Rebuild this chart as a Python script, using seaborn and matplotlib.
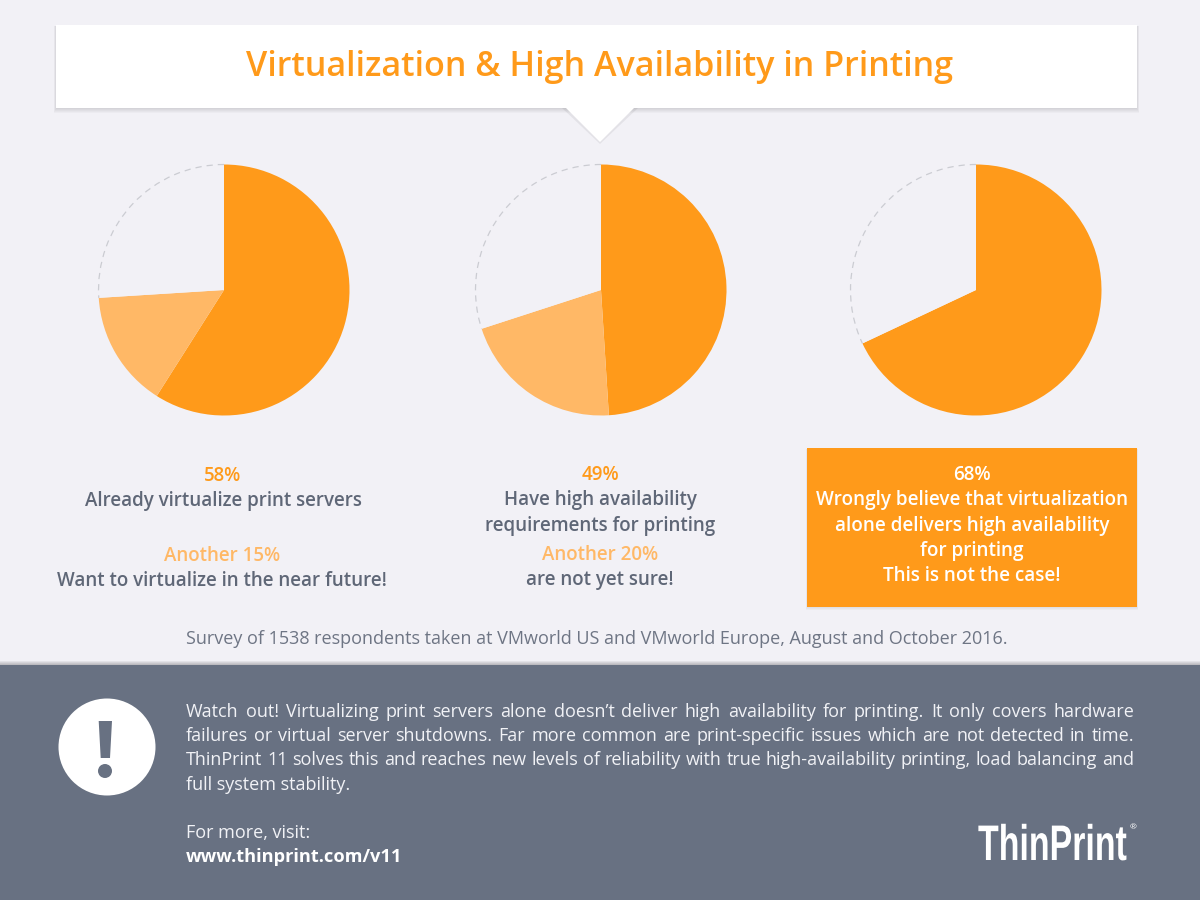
#!/usr/bin/env python3
# Survey infographic: three pies, captions and a footer panel.

import matplotlib

matplotlib.use("Agg")
import matplotlib.pyplot as plt
import seaborn as sns
from matplotlib.patches import Arc, Circle, Polygon, Rectangle
from matplotlib.patheffects import AbstractPathEffect
from matplotlib.transforms import Affine2D

W, H = 1200, 900

BG = "#F2F1F6"
ORANGE = "#FF9A1A"
LIGHT = "#FFB866"
SLATE = "#687182"
TEXT = "#5F6777"
REST = "#F2F1F6"

# pie shares as measured from the slice angles (first two slices, rest is empty)
PIE_MAIN = [59, 49, 68]
PIE_SOFT = [15, 21, 0]
PIE_CENTERS = [224, 601, 976]
PIE_RADIUS = 125.5

TITLE = "Virtualization & High Availability in Printing"
SURVEY = "Survey of 1538 respondents taken at VMworld US and VMworld Europe, August and October 2016."
FOOT_LINES = [
    "Watch out! Virtualizing print servers alone doesn’t deliver high availability for printing. It only covers hardware",
    "failures or virtual server shutdowns. Far more common are print-specific issues which are not detected in time.",
    "ThinPrint 11 solves this and reaches new levels of reliability with true high-availability printing, load balancing and",
]
FOOT_LAST = "full system stability."
FOOT_SIZE = 13.0

sns.set_theme(style="white")
plt.rcParams["font.family"] = ["Open Sans", "DejaVu Sans"]

fig = plt.figure(figsize=(W / 100, H / 100), dpi=100, facecolor=BG)
bg = fig.add_axes([0, 0, 1, 1])
bg.set_xlim(0, W)
bg.set_ylim(H, 0)
bg.axis("off")


class Stretch(AbstractPathEffect):
    """Makes the glyphs taller above the baseline (no condensed font is installed)."""

    def __init__(self, y0, sy):
        super().__init__()
        self.stretch = Affine2D().translate(0, -y0).scale(1, sy).translate(0, y0)

    def draw_path(self, renderer, gc, tpath, affine, rgbFace=None):
        renderer.draw_path(gc, tpath, affine + self.stretch, rgbFace)


def soft_shadow(x, y, w, h, steps=5, drop=1.0):
    for i in range(steps):
        bg.add_patch(Rectangle((x - i * 0.6, y + drop), w + i * 1.2, h + i * 0.9,
                               fc="#000000", alpha=0.022, lw=0, zorder=1))


def put(x, y, s, color=TEXT, size=13.5, weight="semibold", ha="center", **kw):
    return bg.text(x, y, s, color=color, fontsize=size, fontweight=weight,
                   ha=ha, va="center", zorder=6, **kw)


def justified(y, s, x0, x1, color, size):
    # spread the words so the line fills x0..x1
    words = s.split(" ")
    rend = fig.canvas.get_renderer()
    items = [bg.text(0, y, w, color=color, fontsize=size, va="center", zorder=6) for w in words]
    widths = [t.get_window_extent(rend).width for t in items]
    gap = (x1 - x0 - sum(widths)) / (len(words) - 1)
    x = x0
    for t, w in zip(items, widths):
        t.set_x(x)
        x += w + gap


# title card with its notch
soft_shadow(56, 25, 1081, 83)
bg.add_patch(Polygon([(562, 108), (638, 108), (600, 144)], fc="#000000", alpha=0.06, lw=0, zorder=1))
bg.add_patch(Rectangle((56, 25), 1081, 83, fc="white", lw=0, zorder=2))
bg.add_patch(Polygon([(565, 107), (635, 107), (600, 142)], fc="white", lw=0, zorder=2))
put(600, 67, TITLE, color=ORANGE, size=24.6, weight="semibold")

# pies
for cx, main, soft in zip(PIE_CENTERS, PIE_MAIN, PIE_SOFT):
    r = PIE_RADIUS
    ax = fig.add_axes([(cx - r) / W, 1 - (290 + r) / H, 2 * r / W, 2 * r / H])
    ax.pie([main, soft, 100 - main - soft], colors=[ORANGE, LIGHT, REST], startangle=90,
           counterclock=False, radius=1.0, wedgeprops={"linewidth": 0})
    ax.set_xlim(-1, 1)
    ax.set_ylim(-1, 1)
    ax.axis("off")
    end = 90 - 3.6 * (main + soft)
    ax.add_patch(Arc((0, 0), 2, 2, theta1=90, theta2=end + 360, color="#CBCCD2", lw=0.9,
                     ls=(0, (5, 4)), clip_on=False))

# captions under the pies
put(223, 476, "58%", color=ORANGE)
put(223, 501, "Already virtualize print servers")
put(222, 556, "Another 15%", color=LIGHT)
put(222, 581, "Want to virtualize in the near future!")

put(600, 475, "49%", color=ORANGE)
put(600, 500, "Have high availability")
put(600, 526, "requirements for printing")
put(600, 555, "Another 20%", color=LIGHT)
put(600, 580, "are not yet sure!")

soft_shadow(807, 448, 330, 159, steps=3)
bg.add_patch(Rectangle((807, 448), 330, 159, fc=ORANGE, lw=0, zorder=2))
for y, s in zip([475, 500, 526, 551, 576],
                ["68%", "Wrongly believe that virtualization", "alone delivers high availability",
                 "for printing", "This is not the case!"]):
    put(972, y, s, color="white", size=13.6)

put(597, 639, SURVEY, weight="normal", size=12.95, color="#6E7584")

# footer panel
for i in range(4):
    bg.add_patch(Rectangle((0, 664 - i), W, 2 + i, fc="#000000", alpha=0.06, lw=0, zorder=1))
bg.add_patch(Rectangle((0, 665), W, 235, fc=SLATE, lw=0, zorder=2))

bg.add_patch(Circle((107, 747), 48.5, fc="white", lw=0, zorder=3))
bg.add_patch(Polygon([(98.7, 721), (112, 721), (110, 758), (100.7, 758)], fc=SLATE, lw=0, zorder=4))
bg.add_patch(Circle((105, 771), 7, fc=SLATE, lw=0, zorder=4))

fig.canvas.draw()
for y, s in zip([712, 736, 760], FOOT_LINES):
    justified(y, s, 186, 1134, "#F1F2F6", FOOT_SIZE)
put(186, 785, FOOT_LAST, color="#F1F2F6", size=FOOT_SIZE, weight="normal", ha="left")
put(186, 833, "For more, visit:", color="#F1F2F6", size=FOOT_SIZE, weight="normal", ha="left")
put(186, 857, "www.thinprint.com/v11", color="white", size=13.15, weight="bold", ha="left")

# wordmark: real text sized to the logo width, then stretched to the logo height
LOGO_LEFT, LOGO_RIGHT, LOGO_BASE = 978, 1127, 860
logo = bg.text(LOGO_LEFT, LOGO_BASE, "ThinPrint", color="white", fontsize=36, fontweight="bold",
               family=["Liberation Sans", "DejaVu Sans"], ha="left", va="baseline", zorder=6)
rend = fig.canvas.get_renderer()
shrink = (LOGO_RIGHT - LOGO_LEFT) / logo.get_window_extent(rend).width
logo.set_fontsize(36 * shrink)
logo.set_path_effects([Stretch(H - LOGO_BASE, 1 / shrink)])
put(1133, 828, "®", color="white", size=6, weight="normal")

fig.savefig("out.png", dpi=100, facecolor=BG)
